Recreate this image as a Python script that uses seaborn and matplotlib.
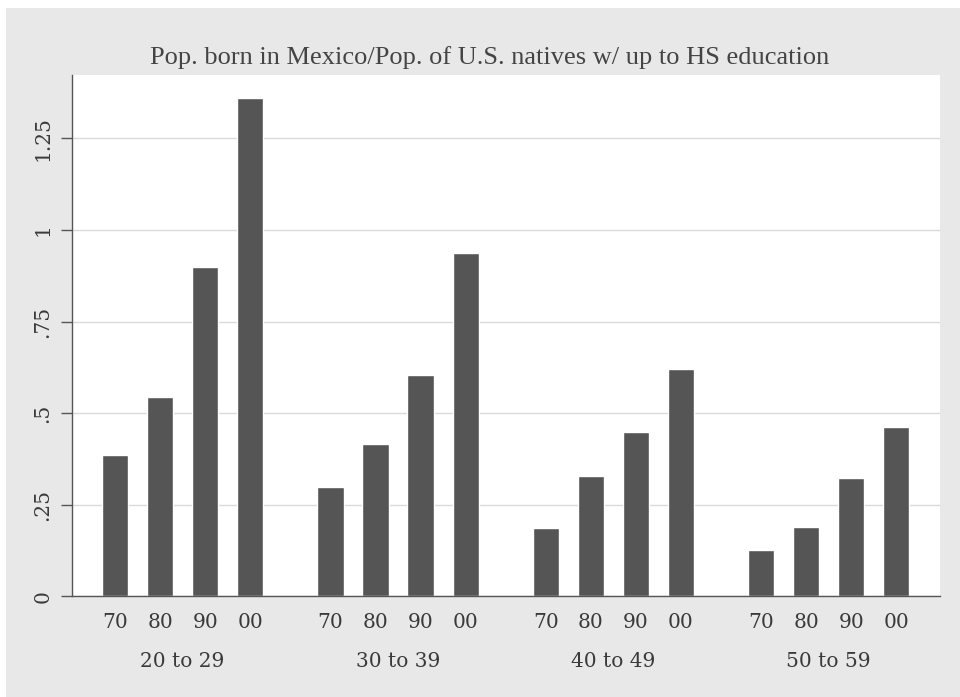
import matplotlib
matplotlib.use("Agg")
import matplotlib.pyplot as plt
import matplotlib.patches as mpatches
import seaborn as sns
import pandas as pd

# ---- data ----
age_groups = ["20 to 29", "30 to 39", "40 to 49", "50 to 59"]
decades = ["70", "80", "90", "00"]
vals_20_29 = [0.386, 0.545, 0.900, 1.359]
vals_30_39 = [0.298, 0.415, 0.604, 0.938]
vals_40_49 = [0.186, 0.329, 0.448, 0.621]
vals_50_59 = [0.127, 0.189, 0.3225, 0.463]
y_ticks = [0, 0.25, 0.5, 0.75, 1, 1.25]
y_tick_labels = ["0", ".25", ".5", ".75", "1", "1.25"]
title = "Pop. born in Mexico/Pop. of U.S. natives w/ up to HS education"

rows = []
for g, vals in zip(age_groups, [vals_20_29, vals_30_39, vals_40_49, vals_50_59]):
    for d, v in zip(decades, vals):
        rows.append({"age": g, "decade": d, "ratio": v})
df = pd.DataFrame(rows)

sns.set_theme(style="white")
plt.rcParams["font.family"] = ["DejaVu Serif"]

fig = plt.figure(figsize=(9.6, 6.97), dpi=100)
fig.patch.set_facecolor("#e8e8e8")
# white scan margins at top and left
fig.patches.append(mpatches.Rectangle((0, 1 - 8 / 697), 1, 8 / 697, transform=fig.transFigure,
                                      facecolor="white", edgecolor="none", zorder=-1))
fig.patches.append(mpatches.Rectangle((0, 0), 6 / 960, 1, transform=fig.transFigure,
                                      facecolor="white", edgecolor="none", zorder=-1))
ax = fig.add_axes([0.075, 0.1442, 0.904, 0.7482])
ax.set_facecolor("white")

bar_color = "#555555"
sns.barplot(data=df, x="age", y="ratio", hue="decade", order=age_groups,
            hue_order=decades, palette=[bar_color] * 4, width=0.837, gap=0.42,
            dodge=True, legend=False, saturation=1, ax=ax, zorder=2)

tick_font = dict(fontsize=14.5, color="#3a3a3a", fontfamily="DejaVu Serif")

ax.set_xlim(-0.514, 3.516)
ax.set_ylim(0, 1.423)
ax.set_yticks(y_ticks)
ax.set_yticklabels(y_tick_labels, rotation=90, va="center", **tick_font)
ax.yaxis.grid(True, color="#dadada", linewidth=1.0, zorder=0)
ax.set_axisbelow(True)
ax.tick_params(axis="y", which="major", direction="out", length=8, width=1,
               color="#555555", left=True, pad=6)

# decade labels under each bar (centres taken from the drawn bars)
centers = sorted(p.get_x() + p.get_width() / 2 for p in ax.patches if p.get_height() > 0)
ax.set_xticks(centers, minor=True)
ax.set_xticklabels(decades * len(age_groups), minor=True, **tick_font)
ax.set_xticks(range(len(age_groups)))
ax.set_xticklabels(age_groups, **tick_font)
ax.tick_params(axis="x", which="minor", length=0, pad=12)
ax.tick_params(axis="x", which="major", length=0, pad=40)

ax.set_xlabel("")
ax.set_ylabel("")
for s in ["top", "right"]:
    ax.spines[s].set_visible(False)
for s in ["left", "bottom"]:
    ax.spines[s].set_color("#555555")
    ax.spines[s].set_linewidth(1.0)

fig.text(0.51, 0.918, title, ha="center", va="center", fontsize=19,
         family=["Liberation Serif"], color="#444444")

fig.savefig("out.png", dpi=100, facecolor=fig.get_facecolor())
